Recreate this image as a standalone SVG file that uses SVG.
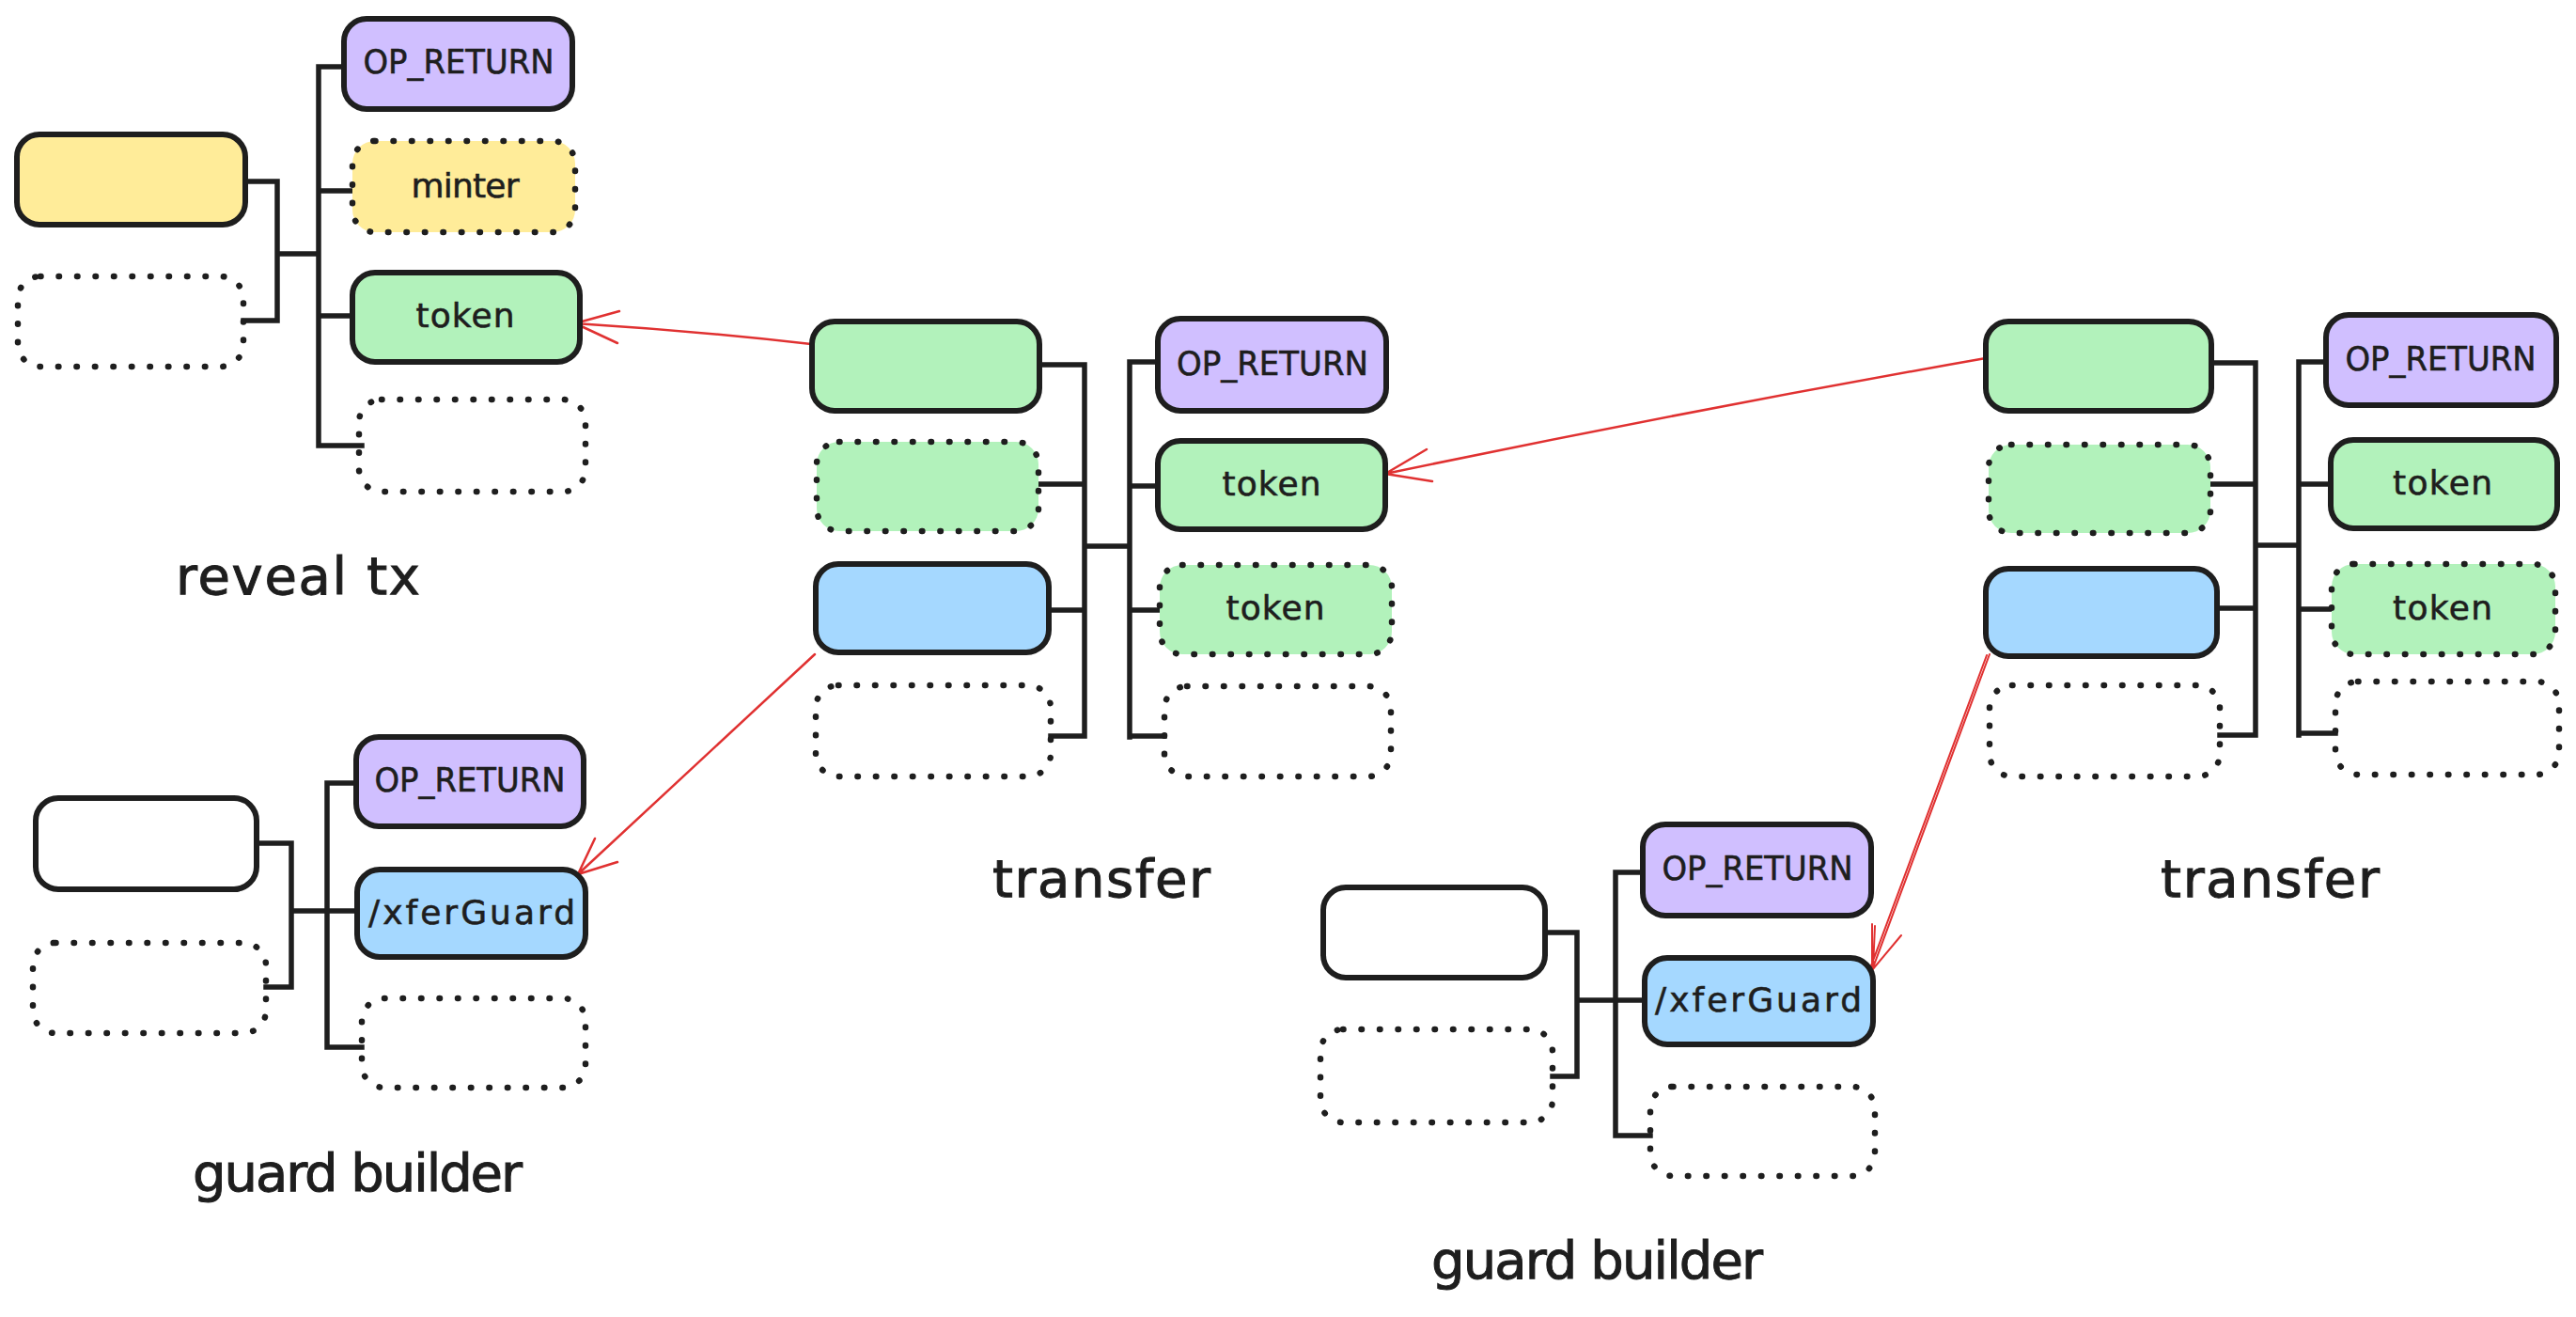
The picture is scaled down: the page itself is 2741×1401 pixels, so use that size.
<svg xmlns="http://www.w3.org/2000/svg" width="2741" height="1401" viewBox="0 0 2741 1401">
<style>
.b{stroke:#1e1e1e;stroke-width:6;stroke-linejoin:round}
.d{stroke:#1e1e1e;stroke-width:6.5;stroke-dasharray:0.5 19;stroke-linecap:round}
.n{fill:none}
.w{fill:#ffffff}
.y{fill:#ffec99}
.p{fill:#d0bfff}
.g{fill:#b2f2bb}
.bl{fill:#a5d8ff}
.t{font-family:"DejaVu Sans","Liberation Sans",sans-serif;font-size:36px;fill:#1e1e1e;stroke:#1e1e1e;stroke-width:0.6;text-anchor:middle}
.L{font-family:"DejaVu Sans","Liberation Sans",sans-serif;font-size:56px;fill:#1e1e1e;stroke:#1e1e1e;stroke-width:1}
.c{fill:none;stroke:#1e1e1e;stroke-width:5.5;stroke-linecap:square}
.r{fill:none;stroke:#e03131;stroke-width:2.5;stroke-linecap:round;stroke-linejoin:round}
</style>
<rect width="2741" height="1401" fill="#ffffff"/>
<g id="connectors">
<path class="c" d="M261 193 H295 V341 H259 M295 270 H339 M339 71 V474 M339 71 H366 M339 203 H375 M339 336 H375 M339 474 H385"/>
<path class="c" d="M273 897 H310 V1050 H283 M310 969 H380 M348 833 V1114 M348 833 H379 M348 1114 H385"/>
<path class="c" d="M1106 388 H1154 V783 H1118 M1105 515 H1154 M1116 649 H1154 M1154 581 H1202 M1202 385 V784 M1202 385 H1232 M1202 517 H1232 M1202 649 H1234 M1202 783 H1239"/>
<path class="c" d="M2353 386 H2400 V782 H2362 M2352 515 H2400 M2359 647 H2400 M2400 580 H2446 M2446 385 V782 M2446 385 H2475 M2446 515 H2480 M2446 648 H2481 M2446 780 H2485"/>
<path class="c" d="M1644 992 H1678 V1145 H1652 M1678 1064 H1750 M1719 928 V1208 M1719 928 H1748 M1719 1208 H1756"/>
<path class="r" d="M863 366 Q740 352 612 344 M659 331 L612 344 L657 365"/>
<path class="r" d="M867 696 L615 930 M633 892 L615 930 L657 917"/>
<path class="r" d="M2113 381 Q1800 436 1474 504 M1518 478 L1474 504 L1524 512"/>
<path class="r" style="stroke-width:2" d="M2117 696 L1992 1032 M2114 697 L1990 1030 M1992 983 L1992 1032 L2023 995 M1995 985 L1993 1030"/>
</g>
<g id="reveal-tx">
<rect id="reveal-in-0" class="b y" x="18" y="143" width="243" height="96" rx="24"/>
<rect id="reveal-in-1" class="d n" x="19" y="294" width="240" height="96" rx="24"/>
<g id="reveal-out-0"><rect class="b p" x="366" y="20" width="243" height="96" rx="24"/><text class="t" x="488" y="78" textLength="203" lengthAdjust="spacingAndGlyphs">OP_RETURN</text></g>
<g id="reveal-out-1"><rect class="y" x="375" y="150" width="237" height="97" rx="24"/><rect class="d n" x="375" y="150" width="237" height="97" rx="24"/><text class="t" x="495" y="210" textLength="115">minter</text></g>
<g id="reveal-out-2"><rect class="b g" x="375" y="290" width="242" height="95" rx="24"/><text class="t" x="495" y="348" textLength="105">token</text></g>
<rect id="reveal-out-3" class="d n" x="382" y="425" width="241" height="98" rx="24"/>
<text id="reveal-label" class="L" x="187" y="632" textLength="260">reveal tx</text>
</g>
<g id="guard-builder-1">
<rect id="gb1-in-0" class="b w" x="38" y="849" width="235" height="97" rx="24"/>
<rect id="gb1-in-1" class="d n" x="35" y="1003" width="248" height="96" rx="24"/>
<g id="gb1-out-0"><rect class="b p" x="379" y="784" width="242" height="95" rx="24"/><text class="t" x="500" y="842" textLength="203" lengthAdjust="spacingAndGlyphs">OP_RETURN</text></g>
<g id="gb1-out-1"><rect class="b bl" x="380" y="925" width="243" height="93" rx="24"/><text class="t" x="502" y="983" textLength="220">/xferGuard</text></g>
<rect id="gb1-out-2" class="d n" x="385" y="1062" width="238" height="95" rx="24"/>
<text id="gb1-label" class="L" x="205" y="1267" textLength="351">guard builder</text>
</g>
<g id="transfer-1">
<rect id="t1-in-0" class="b g" x="864" y="342" width="242" height="95" rx="24"/>
<g id="t1-in-1"><rect class="g" x="869" y="470" width="236" height="95" rx="24"/><rect class="d n" x="869" y="470" width="236" height="95" rx="24"/></g>
<rect id="t1-in-2" class="b bl" x="868" y="600" width="248" height="94" rx="24"/>
<rect id="t1-in-3" class="d n" x="868" y="729" width="250" height="97" rx="24"/>
<g id="t1-out-0"><rect class="b p" x="1232" y="339" width="243" height="98" rx="24"/><text class="t" x="1354" y="399" textLength="204" lengthAdjust="spacingAndGlyphs">OP_RETURN</text></g>
<g id="t1-out-1"><rect class="b g" x="1232" y="469" width="242" height="94" rx="24"/><text class="t" x="1353" y="527" textLength="105">token</text></g>
<g id="t1-out-2"><rect class="g" x="1234" y="601" width="247" height="95" rx="24"/><rect class="d n" x="1234" y="601" width="247" height="95" rx="24"/><text class="t" x="1357" y="659" textLength="105">token</text></g>
<rect id="t1-out-3" class="d n" x="1239" y="730" width="241" height="96" rx="24"/>
<text id="t1-label" class="L" x="1056" y="954" textLength="232">transfer</text>
</g>
<g id="transfer-2">
<rect id="t2-in-0" class="b g" x="2113" y="342" width="240" height="95" rx="24"/>
<g id="t2-in-1"><rect class="g" x="2116" y="473" width="236" height="94" rx="24"/><rect class="d n" x="2116" y="473" width="236" height="94" rx="24"/></g>
<rect id="t2-in-2" class="b bl" x="2113" y="605" width="246" height="93" rx="24"/>
<rect id="t2-in-3" class="d n" x="2117" y="729" width="245" height="97" rx="24"/>
<g id="t2-out-0"><rect class="b p" x="2475" y="335" width="245" height="96" rx="24"/><text class="t" x="2597" y="394" textLength="203" lengthAdjust="spacingAndGlyphs">OP_RETURN</text></g>
<g id="t2-out-1"><rect class="b g" x="2480" y="468" width="241" height="94" rx="24"/><text class="t" x="2599" y="526" textLength="106">token</text></g>
<g id="t2-out-2"><rect class="g" x="2481" y="600" width="238" height="96" rx="24"/><rect class="d n" x="2481" y="600" width="238" height="96" rx="24"/><text class="t" x="2599" y="659" textLength="106">token</text></g>
<rect id="t2-out-3" class="d n" x="2485" y="725" width="238" height="99" rx="24"/>
<text id="t2-label" class="L" x="2299" y="954" textLength="233">transfer</text>
</g>
<g id="guard-builder-2">
<rect id="gb2-in-0" class="b w" x="1408" y="944" width="236" height="96" rx="24"/>
<rect id="gb2-in-1" class="d n" x="1405" y="1095" width="247" height="99" rx="24"/>
<g id="gb2-out-0"><rect class="b p" x="1748" y="877" width="243" height="97" rx="24"/><text class="t" x="1870" y="936" textLength="203" lengthAdjust="spacingAndGlyphs">OP_RETURN</text></g>
<g id="gb2-out-1"><rect class="b bl" x="1750" y="1019" width="243" height="92" rx="24"/><text class="t" x="1871" y="1076" textLength="220">/xferGuard</text></g>
<rect id="gb2-out-2" class="d n" x="1756" y="1156" width="239" height="95" rx="24"/>
<text id="gb2-label" class="L" x="1523" y="1360" textLength="353">guard builder</text>
</g>
</svg>
